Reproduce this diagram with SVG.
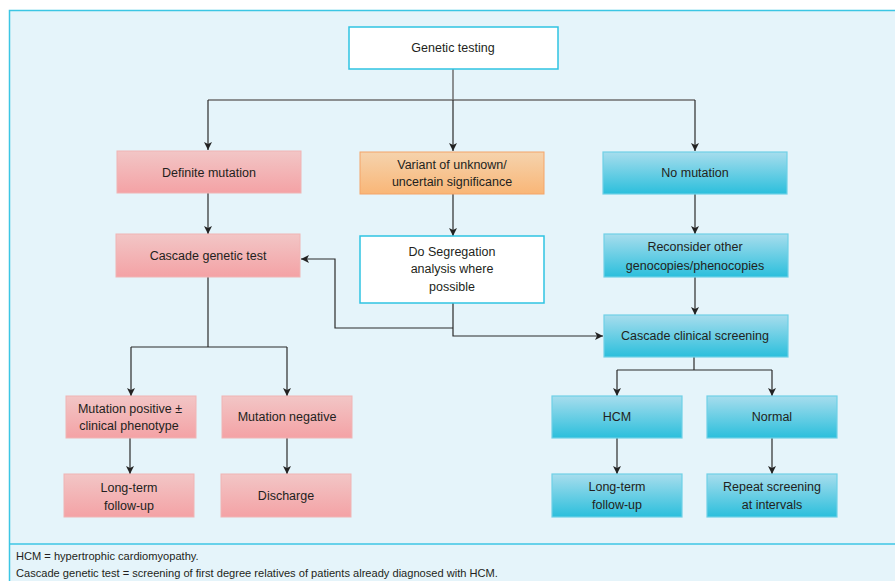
<svg xmlns="http://www.w3.org/2000/svg" width="895" height="581" viewBox="0 0 895 581">
<defs>
<linearGradient id="gPink" x1="0" y1="0" x2="0" y2="1">
<stop offset="0" stop-color="#f2c6c6"/><stop offset="1" stop-color="#f4a2a5"/>
</linearGradient>
<linearGradient id="gOrange" x1="0" y1="0" x2="0" y2="1">
<stop offset="0" stop-color="#f5d3ad"/><stop offset="1" stop-color="#f9b677"/>
</linearGradient>
<linearGradient id="gBlue" x1="0" y1="0" x2="0" y2="1">
<stop offset="0" stop-color="#a7dded"/><stop offset="1" stop-color="#2bbfdc"/>
</linearGradient>
<marker id="arr" markerWidth="9" markerHeight="8" refX="8" refY="4" orient="auto" markerUnits="userSpaceOnUse">
<path d="M0,0 L8,4 L0,8 L2,4 z" fill="#222"/>
</marker>
</defs>
<style>
text{font-family:"Liberation Sans",Arial,sans-serif;font-size:12.5px;fill:#231f20;text-anchor:middle}
.pink{fill:url(#gPink);stroke:#f0b4b4;stroke-width:1}
.orange{fill:url(#gOrange);stroke:#f4a468;stroke-width:1}
.blue{fill:url(#gBlue);stroke:#6fd0e6;stroke-width:1.2}
.white{fill:#fff;stroke:#2fc3e2;stroke-width:1.5}
.c{fill:none;stroke:#2a2a2a;stroke-width:1.2}
.cg{fill:none;stroke:#6e6e6e;stroke-width:1.5}
.foot{font-size:11.1px;text-anchor:start}
</style>
<rect x="0" y="0" width="895" height="581" fill="#fff"/>
<rect x="9.5" y="10.5" width="900" height="580" fill="#e5f4fa" stroke="#3cc6e4" stroke-width="1.5"/>
<line x1="9" y1="544" x2="895" y2="544" stroke="#3cc6e4" stroke-width="1.5"/>

<g id="connectors">
<path class="cg" d="M208,100 H695"/>
<path class="c" d="M208,100 V150" marker-end="url(#arr)"/>
<path class="c" d="M695,100 V151" marker-end="url(#arr)"/>
<path class="cg" d="M453,69 V100"/>
<path class="c" d="M453,100 V151" marker-end="url(#arr)"/>
<path class="c" d="M208,193 V234" marker-end="url(#arr)"/>
<path class="c" d="M453,194 V236" marker-end="url(#arr)"/>
<path class="c" d="M695,194 V234" marker-end="url(#arr)"/>
<path class="c" d="M695,277 V315" marker-end="url(#arr)"/>
<path class="c" d="M453,303 V336 H603" marker-end="url(#arr)"/>
<path class="c" d="M453,328 H335 V259 H301" marker-end="url(#arr)"/>
<path class="c" d="M208,277 V347"/>
<path class="c" d="M131,347 H287"/>
<path class="c" d="M131,347 V396" marker-end="url(#arr)"/>
<path class="c" d="M287,347 V396" marker-end="url(#arr)"/>
<path class="c" d="M130,438 V474" marker-end="url(#arr)"/>
<path class="c" d="M287,438 V474" marker-end="url(#arr)"/>
<path class="c" d="M694,357 V370"/>
<path class="c" d="M617,370 H772"/>
<path class="c" d="M617,370 V396" marker-end="url(#arr)"/>
<path class="c" d="M772,370 V396" marker-end="url(#arr)"/>
<path class="c" d="M617,438 V474" marker-end="url(#arr)"/>
<path class="c" d="M772,438 V474" marker-end="url(#arr)"/>
</g>

<g id="genetic-testing"><rect class="white" x="349" y="27" width="209" height="42"/><text x="453" y="52">Genetic testing</text></g>
<g id="definite-mutation"><rect class="pink" x="117" y="151" width="184" height="42"/><text x="209" y="177">Definite mutation</text></g>
<g id="variant"><rect class="orange" x="360" y="152" width="184" height="42"/><text x="452" y="169">Variant of unknown/</text><text x="452" y="186">uncertain significance</text></g>
<g id="no-mutation"><rect class="blue" x="603" y="152" width="184" height="42"/><text x="695" y="177">No mutation</text></g>
<g id="cascade-genetic"><rect class="pink" x="116" y="234" width="184" height="43"/><text x="208" y="260">Cascade genetic test</text></g>
<g id="segregation"><rect class="white" x="360" y="236" width="184" height="67"/><text x="452" y="256">Do Segregation</text><text x="452" y="273">analysis where</text><text x="452" y="291">possible</text></g>
<g id="reconsider"><rect class="blue" x="604" y="234" width="184" height="43"/><text x="695" y="251">Reconsider other</text><text x="695" y="270">genocopies/phenocopies</text></g>
<g id="cascade-clinical"><rect class="blue" x="604" y="315" width="184" height="42"/><text x="695" y="340">Cascade clinical screening</text></g>
<g id="mutation-positive"><rect class="pink" x="66" y="396" width="130" height="42"/><text x="130" y="413">Mutation positive ±</text><text x="129" y="430">clinical phenotype</text></g>
<g id="mutation-negative"><rect class="pink" x="222" y="396" width="130" height="42"/><text x="287" y="421">Mutation negative</text></g>
<g id="long-term-pink"><rect class="pink" x="64" y="474" width="130" height="43"/><text x="129" y="492">Long-term</text><text x="129" y="510">follow-up</text></g>
<g id="discharge"><rect class="pink" x="221" y="474" width="130" height="43"/><text x="286" y="500">Discharge</text></g>
<g id="hcm"><rect class="blue" x="552" y="396" width="130" height="42"/><text x="617" y="421">HCM</text></g>
<g id="normal"><rect class="blue" x="707" y="396" width="130" height="42"/><text x="772" y="421">Normal</text></g>
<g id="long-term-blue"><rect class="blue" x="552" y="474" width="130" height="43"/><text x="617" y="491">Long-term</text><text x="617" y="509">follow-up</text></g>
<g id="repeat"><rect class="blue" x="707" y="474" width="130" height="43"/><text x="772" y="491">Repeat screening</text><text x="772" y="509">at intervals</text></g>

<text class="foot" x="16" y="560">HCM = hypertrophic cardiomyopathy.</text>
<text class="foot" x="16" y="577">Cascade genetic test = screening of first degree relatives of patients already diagnosed with HCM.</text>
</svg>
